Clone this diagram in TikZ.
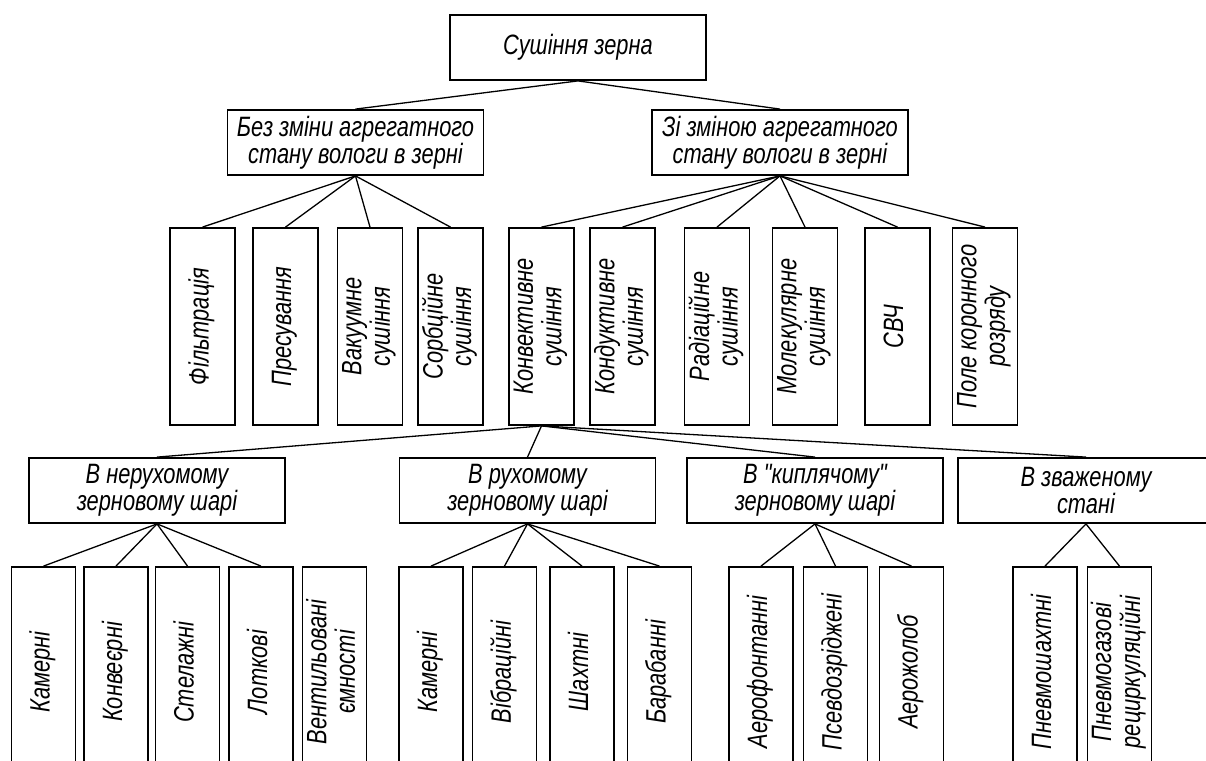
\documentclass[tikz,border=0pt]{standalone}
\usepackage{fontspec}
\newfontfamily\gost{Liberation Sans}[FakeStretch=0.78]
\newcommand{\vtext}[1]{\rotatebox{90}{\begin{tabular}{@{}c@{}}#1\end{tabular}}}

\begin{document}
\begin{tikzpicture}[x=1pt,y=-1pt,
    box/.style={draw,line width=1.8pt,inner sep=0pt,align=center,
      font=\gost\itshape\fontsize{28}{27}\selectfont},
    hbox/.style={box,minimum width=256pt,minimum height=65pt},
    vbox/.style={box,minimum width=65pt,minimum height=197pt},
    lbox/.style={box,minimum width=64pt,minimum height=210pt},
    link/.style={line width=1.3pt}]
  \useasboundingbox (0,0) rectangle (1206,760);
  \begin{scope}
    \clip (0,0) rectangle (1206,760);
    \node[hbox] (top) at (578,47.5) {Сушіння зерна};
    \node[hbox] (bez) at (355.5,142.5) {Без зміни агрегатного\\стану вологи в зерні};
    \node[hbox] (zi) at (780,142.5) {Зі зміною агрегатного\\стану вологи в зерні};
    % methods
    \foreach \n/\x/\t in {fil/202.5/Фільтрація, pres/285.5/Пресування,
        vak/370/{Вакуумне\\сушіння}, sorb/450.5/{Сорбційне\\сушіння},
        konv/541.5/{Конвективне\\сушіння}, kond/622.5/{Кондуктивне\\сушіння},
        rad/717/{Радіаційне\\сушіння}, mol/805/{Молекулярне\\сушіння},
        svch/897.5/СВЧ, pole/985/{Поле коронного\\розряду}}
      \node[vbox] (\n) at (\x,326.5) {\vtext{\t}};
    % grain layer
    \node[hbox] (nerukh) at (157,490.5) {В нерухомому\\зерновому шарі};
    \node[hbox] (rukh) at (527.5,490.5) {В рухомому\\зерновому шарі};
    \node[hbox] (kypl) at (815,490.5) {В "киплячому"\\зерновому шарі};
    \node[hbox] (zvazh) at (1086,490.5) {В зваженому\\стані};
    % dryers
    \foreach \n/\x/\t in {kamA/43.5/Камерні, konvr/116/Конвеєрні,
        stel/187.5/Стелажні, lotk/261/Лоткові, vent/334.5/{Вентильовані\\ємності},
        kamB/431/Камерні, vibr/504.5/Вібраційні, shakh/582/Шахтні,
        barab/659.5/Барабанні, aerof/761/Аерофонтанні,
        psevd/835.5/Псевдозріджені, aerozh/911.5/Аерожолоб,
        pnsh/1045/Пневмошахтні, pngaz/1119.5/{Пневмогазові\\рециркуляційні}}
      \node[lbox] (\n) at (\x,672) {\vtext{\t}};
    % links
    \foreach \c in {bez,zi} \draw[link] (top.south) -- (\c.north);
    \foreach \c in {fil,pres,vak,sorb} \draw[link] (bez.south) -- (\c.north);
    \foreach \c in {konv,kond,rad,mol,svch,pole} \draw[link] (zi.south) -- (\c.north);
    \foreach \c in {nerukh,rukh,kypl,zvazh} \draw[link] (konv.south) -- (\c.north);
    \foreach \c in {kamA,konvr,stel,lotk} \draw[link] (nerukh.south) -- (\c.north);
    \foreach \c in {kamB,vibr,shakh,barab} \draw[link] (rukh.south) -- (\c.north);
    \foreach \c in {aerof,psevd,aerozh} \draw[link] (kypl.south) -- (\c.north);
    \foreach \c in {pnsh,pngaz} \draw[link] (zvazh.south) -- (\c.north);
  \end{scope}
\end{tikzpicture}
\end{document}
